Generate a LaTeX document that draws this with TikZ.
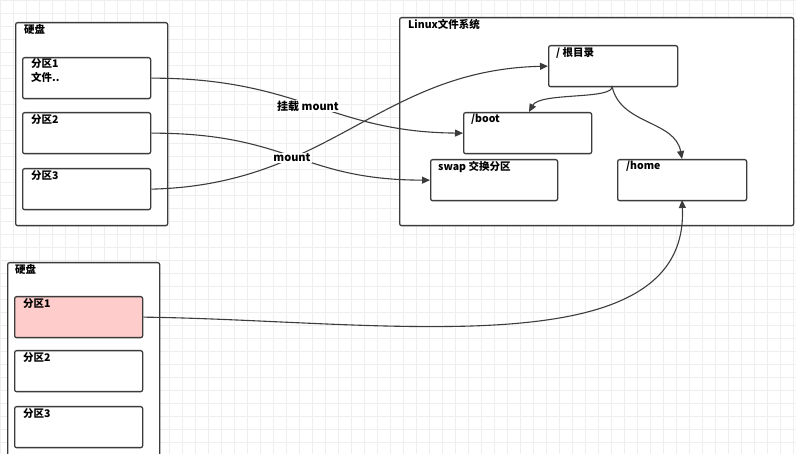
\documentclass[tikz,border=0pt]{standalone}
\usepackage{fontspec}
\setmainfont{Noto Sans CJK SC}
\usetikzlibrary{arrows.meta}
\definecolor{grid}{RGB}{238,238,238}
\definecolor{edge}{RGB}{60,60,60}
\definecolor{pink}{RGB}{255,204,204}
\tikzset{
 box/.style={draw=edge,line width=1.3pt,rounded corners=2pt,fill=white},
 lbl/.style={anchor=north west,font=\bfseries\fontsize{10.5}{14}\selectfont,inner sep=0pt,align=left},
 con/.style={draw=edge,line width=1.1pt,-{Triangle[length=8pt,width=7pt]}},
 ml/.style={fill=white,inner sep=1pt,font=\bfseries\fontsize{11}{12}\selectfont}
}
\begin{document}
\begin{tikzpicture}[x=1pt,y=-1pt]
\useasboundingbox (0,0) rectangle (796,454);
\fill[white] (0,0) rectangle (796,454);
\draw[grid,step=13pt] (0,0) grid (796,454);
% disk 1
\node[box,minimum width=152pt,minimum height=203pt,anchor=north west] (d1) at (15,22) {};
\node[lbl] at (24,24) {硬盘};
\node[box,minimum width=128pt,minimum height=41pt,anchor=north west] (a1) at (22,57) {};
\node[lbl] at (31,58) {分区1\\文件..};
\node[box,minimum width=128pt,minimum height=41pt,anchor=north west] (a2) at (22,112) {};
\node[lbl] at (31,114) {分区2};
\node[box,minimum width=128pt,minimum height=41pt,anchor=north west] (a3) at (22,168) {};
\node[lbl] at (31,170) {分区3};
% linux
\node[box,minimum width=394pt,minimum height=208pt,anchor=north west] (lx) at (399,17) {};
\node[lbl] at (408,19) {Linux文件系统};
\node[box,minimum width=129pt,minimum height=41pt,anchor=north west] (root) at (548,45) {};
\node[lbl] at (556,47) {/ 根目录};
\node[box,minimum width=128pt,minimum height=41pt,anchor=north west] (boot) at (463,112) {};
\node[lbl] at (471,114) {/boot};
\node[box,minimum width=127pt,minimum height=41pt,anchor=north west] (swap) at (430,159) {};
\node[lbl] at (438,161) {swap 交换分区};
\node[box,minimum width=129pt,minimum height=41pt,anchor=north west] (home) at (617,159) {};
\node[lbl] at (626,161) {/home};
% disk 2
\node[box,minimum width=152pt,minimum height=200pt,anchor=north west] (d2) at (7,262) {};
\node[lbl] at (15,264) {硬盘};
\node[box,fill=pink,minimum width=128pt,minimum height=41pt,anchor=north west] (b1) at (14,296) {};
\node[lbl] at (23,298) {分区1};
\node[box,minimum width=128pt,minimum height=41pt,anchor=north west] (b2) at (14,350) {};
\node[lbl] at (23,352) {分区2};
\node[box,minimum width=128pt,minimum height=41pt,anchor=north west] (b3) at (14,406) {};
\node[lbl] at (23,408) {分区3};
% connectors
\draw[con] (a3.east) .. controls (330,185) and (380,70) .. (root.west);
\draw[con] (a1.east) .. controls (300,78) and (330,132) .. (boot.west);
\node[ml] at (308,106) {挂载 mount};
\draw[con] (a2.east) .. controls (290,133) and (300,180) .. (swap.west);
\node[ml] at (292,158) {mount};
\draw[con] (612,86) .. controls (615,100) and (540,92) .. (529,112);
\draw[con] (612,86) .. controls (620,125) and (675,120) .. (682,159);
\draw[con] (b1.east) .. controls (380,320) and (690,370) .. (682,200);
\end{tikzpicture}
\end{document}
